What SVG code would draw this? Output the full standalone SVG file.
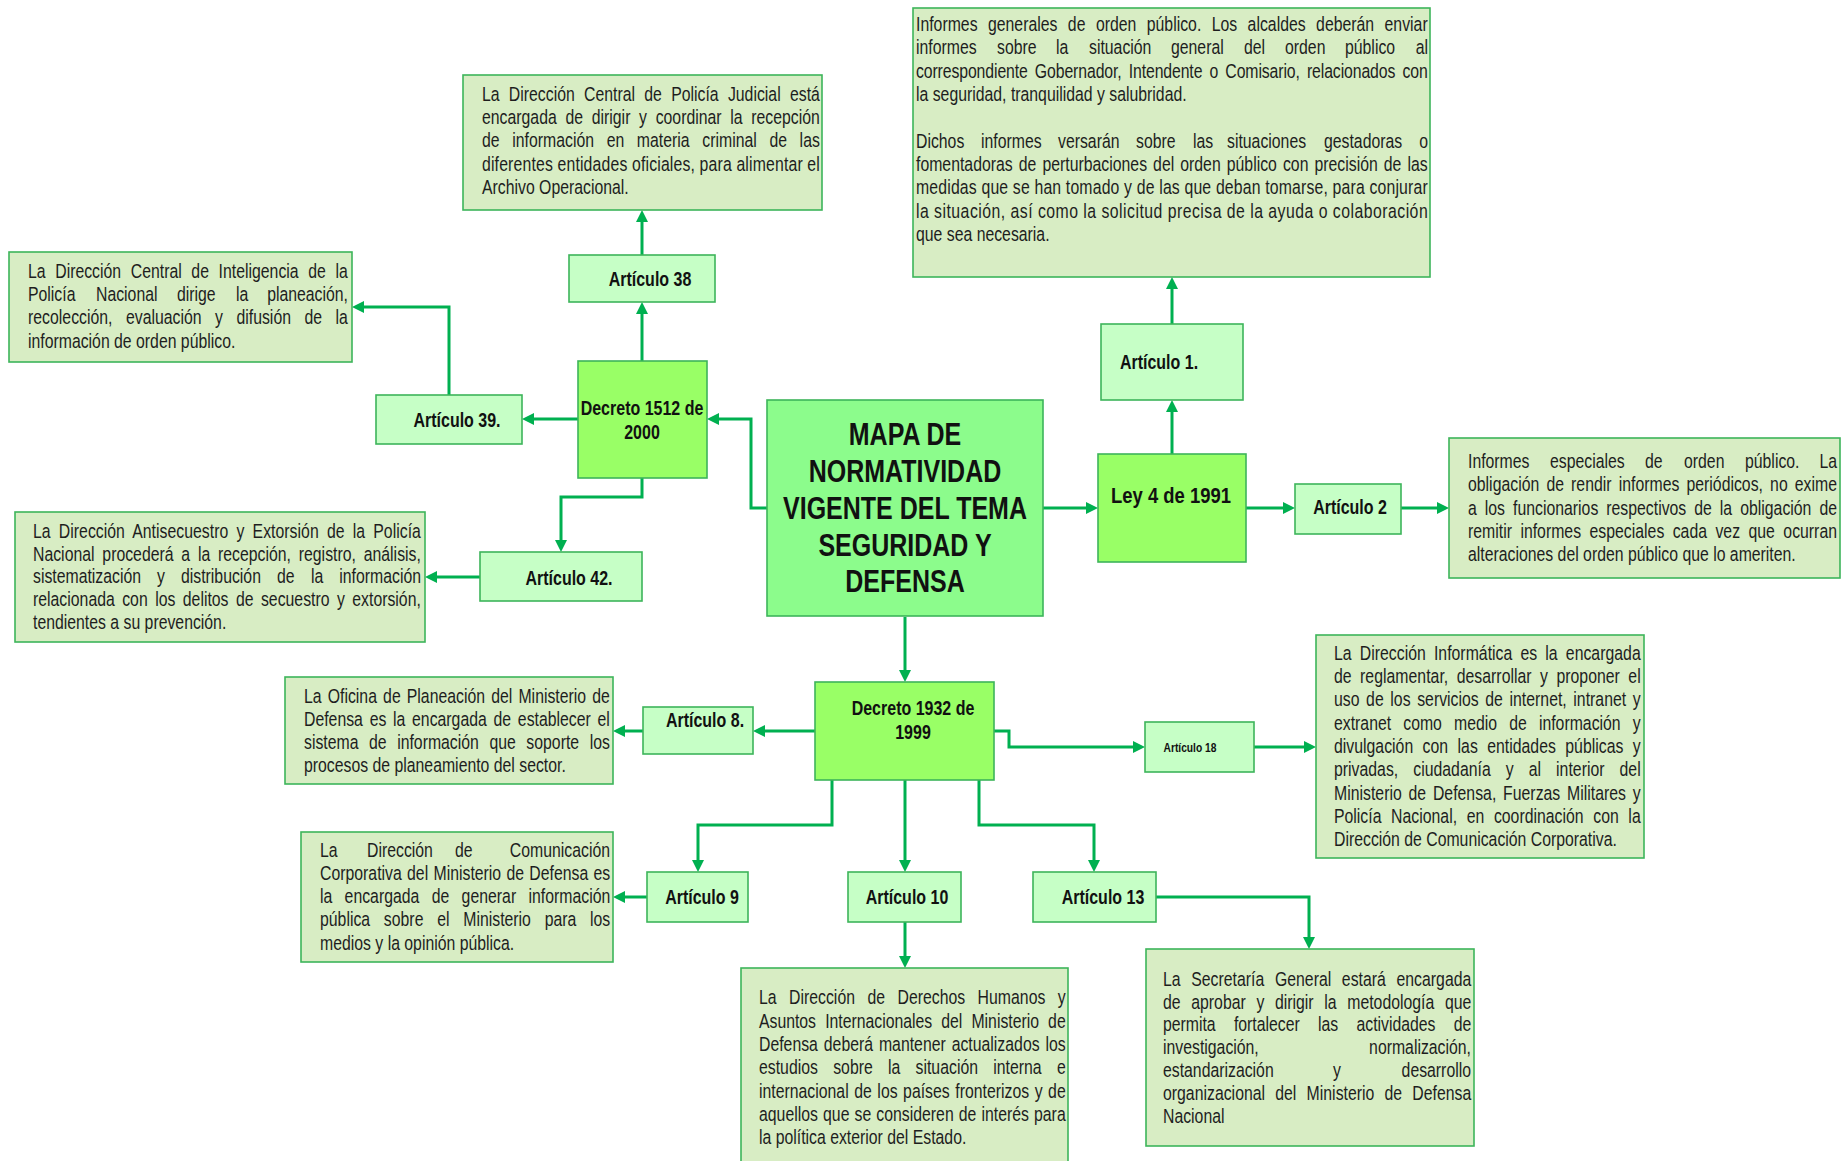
<svg xmlns="http://www.w3.org/2000/svg" width="1841" height="1161" viewBox="0 0 1841 1161">
<style>
.t{font-family:"Liberation Sans",Arial,sans-serif;font-size:19.3px;fill:#1e1e1e}
.e{text-anchor:end}
.b{font-family:"Liberation Sans",Arial,sans-serif;font-weight:bold;font-size:19.5px;fill:#111;text-anchor:middle}
.desc{fill:#D8EDC4;stroke:#3DB55A;stroke-width:1.6}
.art{fill:#C6FFC6;stroke:#3DB55A;stroke-width:1.6}
.dec{fill:#99FF66;stroke:#3DB55A;stroke-width:1.6}
.main{fill:#8CFC8C;stroke:#3DB55A;stroke-width:1.6}
.c{fill:none;stroke:#00B050;stroke-width:3;marker-end:url(#ah)}
</style>
<defs>
<marker id="ah" viewBox="0 0 12 12" refX="6" refY="6" markerWidth="12" markerHeight="12" markerUnits="userSpaceOnUse" orient="auto"><path d="M0,0 L12,6 L0,12 z" fill="#00B050"/></marker>
</defs>
<rect width="1841" height="1161" fill="#fff"/>

<g id="connectors">
<path class="c" d="M767,508 H751 V419 H713"/>
<path class="c" d="M642,361 V308"/>
<path class="c" d="M642,255 V216"/>
<path class="c" d="M578,419 H528"/>
<path class="c" d="M449,395 V307 H358"/>
<path class="c" d="M642,478 V497 H561 V546"/>
<path class="c" d="M480,577 H431"/>
<path class="c" d="M1043,508 H1092"/>
<path class="c" d="M1172,454 V406"/>
<path class="c" d="M1172,324 V283"/>
<path class="c" d="M1246,508 H1289"/>
<path class="c" d="M1401,508 H1443"/>
<path class="c" d="M905,617 V676"/>
<path class="c" d="M815,731 H759"/>
<path class="c" d="M643,731 H619"/>
<path class="c" d="M994,731 H1009 V747 H1139"/>
<path class="c" d="M1254,747 H1310"/>
<path class="c" d="M832,780 V825 H698 V866"/>
<path class="c" d="M905,780 V866"/>
<path class="c" d="M979,780 V825 H1094 V866"/>
<path class="c" d="M647,897 H619"/>
<path class="c" d="M905,922 V962"/>
<path class="c" d="M1156,897 H1309 V943"/>
</g>

<g id="main">
<rect class="main" x="767" y="400" width="276" height="216"/>
<text class="b" style="font-size:30.5px" transform="translate(905,445) scale(.82,1)">MAPA DE</text>
<text class="b" style="font-size:30.5px" transform="translate(905,482) scale(.82,1)">NORMATIVIDAD</text>
<text class="b" style="font-size:30.5px" transform="translate(905,519) scale(.82,1)">VIGENTE DEL TEMA</text>
<text class="b" style="font-size:30.5px" transform="translate(905,556) scale(.82,1)">SEGURIDAD Y</text>
<text class="b" style="font-size:30.5px" transform="translate(905,592) scale(.82,1)">DEFENSA</text>
</g>

<g id="informes-generales">
<rect class="desc" x="913" y="8" width="517" height="269"/>
<text class="t" style="word-spacing:7.3px" transform="translate(916,31) scale(.82,1)" textLength="624" lengthAdjust="spacing">Informes generales de orden público. Los alcaldes deberán enviar</text>
<text class="t" transform="translate(916,54) scale(.82,1)">informes</text>
<text class="t" transform="translate(997,54) scale(.82,1)">sobre</text>
<text class="t" transform="translate(1056,54) scale(.82,1)">la</text>
<text class="t" transform="translate(1089,54) scale(.82,1)">situación</text>
<text class="t" transform="translate(1171,54) scale(.82,1)">general</text>
<text class="t" transform="translate(1244,54) scale(.82,1)">del</text>
<text class="t" transform="translate(1285,54) scale(.82,1)">orden</text>
<text class="t" transform="translate(1345,54) scale(.82,1)">público</text>
<text class="t e" transform="translate(1428,54) scale(.82,1)">al</text>
<text class="t" style="word-spacing:3.5px" transform="translate(916,78) scale(.82,1)" textLength="624" lengthAdjust="spacing">correspondiente Gobernador, Intendente o Comisario, relacionados con</text>
<text class="t" transform="translate(916,101) scale(.82,1)">la seguridad, tranquilidad y salubridad.</text>
<text class="t" transform="translate(916,148) scale(.82,1)">Dichos</text>
<text class="t" transform="translate(981,148) scale(.82,1)">informes</text>
<text class="t" transform="translate(1058,148) scale(.82,1)">versarán</text>
<text class="t" transform="translate(1136,148) scale(.82,1)">sobre</text>
<text class="t" transform="translate(1193,148) scale(.82,1)">las</text>
<text class="t" transform="translate(1227,148) scale(.82,1)">situaciones</text>
<text class="t" transform="translate(1324,148) scale(.82,1)">gestadoras</text>
<text class="t e" transform="translate(1428,148) scale(.82,1)">o</text>
<text class="t" style="word-spacing:2px" transform="translate(916,171) scale(.82,1)" textLength="624" lengthAdjust="spacing">fomentadoras de perturbaciones del orden público con precisión de las</text>
<text class="t" transform="translate(916,194) scale(.82,1)" textLength="624" lengthAdjust="spacing">medidas que se han tomado y de las que deban tomarse, para conjurar</text>
<text class="t" transform="translate(916,218) scale(.82,1)" textLength="624" lengthAdjust="spacing">la situación, así como la solicitud precisa de la ayuda o colaboración</text>
<text class="t" transform="translate(916,241) scale(.82,1)">que sea necesaria.</text>
</g>

<g id="judicial">
<rect class="desc" x="463" y="75" width="359" height="135"/>
<text class="t" style="word-spacing:5.9px" transform="translate(482,101) scale(.82,1)" textLength="412" lengthAdjust="spacing">La Dirección Central de Policía Judicial está</text>
<text class="t" style="word-spacing:5.2px" transform="translate(482,124) scale(.82,1)" textLength="412" lengthAdjust="spacing">encargada de dirigir y coordinar la recepción</text>
<text class="t" style="word-spacing:10px" transform="translate(482,147) scale(.82,1)" textLength="412" lengthAdjust="spacing">de información en materia criminal de las</text>
<text class="t" transform="translate(482,171) scale(.82,1)" textLength="412" lengthAdjust="spacing">diferentes entidades oficiales, para alimentar el</text>
<text class="t" transform="translate(482,194) scale(.82,1)">Archivo Operacional.</text>
</g>

<g id="articulo-38">
<rect class="art" x="569" y="255" width="146" height="47"/>
<text class="b" transform="translate(650,286) scale(.82,1)">Artículo 38</text>
</g>

<g id="inteligencia">
<rect class="desc" x="9" y="252" width="343" height="110"/>
<text class="t" style="word-spacing:6.4px" transform="translate(28,278) scale(.82,1)" textLength="390" lengthAdjust="spacing">La Dirección Central de Inteligencia de la</text>
<text class="t" transform="translate(28,301) scale(.82,1)">Policía</text>
<text class="t" transform="translate(96,301) scale(.82,1)">Nacional</text>
<text class="t" transform="translate(177,301) scale(.82,1)">dirige</text>
<text class="t" transform="translate(236,301) scale(.82,1)">la</text>
<text class="t e" transform="translate(348,301) scale(.82,1)">planeación,</text>
<text class="t" style="word-spacing:11px" transform="translate(28,324) scale(.82,1)" textLength="390" lengthAdjust="spacing">recolección, evaluación y difusión de la</text>
<text class="t" transform="translate(28,348) scale(.82,1)">información de orden público.</text>
</g>

<g id="articulo-39">
<rect class="art" x="376" y="395" width="146" height="49"/>
<text class="b" transform="translate(457,427) scale(.82,1)">Artículo 39.</text>
</g>

<g id="decreto-1512">
<rect class="dec" x="578" y="361" width="129" height="117"/>
<text class="b" transform="translate(642,415) scale(.82,1)">Decreto 1512 de</text>
<text class="b" transform="translate(642,439) scale(.82,1)">2000</text>
</g>

<g id="antisecuestro">
<rect class="desc" x="15" y="512" width="410" height="130"/>
<text class="t" style="word-spacing:4.6px" transform="translate(33,538) scale(.82,1)" textLength="473" lengthAdjust="spacing">La Dirección Antisecuestro y Extorsión de la Policía</text>
<text class="t" style="word-spacing:4.1px" transform="translate(33,561) scale(.82,1)" textLength="473" lengthAdjust="spacing">Nacional procederá a la recepción, registro, análisis,</text>
<text class="t" transform="translate(33,583) scale(.82,1)">sistematización</text>
<text class="t" transform="translate(157,583) scale(.82,1)">y</text>
<text class="t" transform="translate(181,583) scale(.82,1)">distribución</text>
<text class="t" transform="translate(277,583) scale(.82,1)">de</text>
<text class="t" transform="translate(311,583) scale(.82,1)">la</text>
<text class="t e" transform="translate(421,583) scale(.82,1)">información</text>
<text class="t" style="word-spacing:3.7px" transform="translate(33,606) scale(.82,1)" textLength="473" lengthAdjust="spacing">relacionada con los delitos de secuestro y extorsión,</text>
<text class="t" transform="translate(33,629) scale(.82,1)">tendientes a su prevención.</text>
</g>

<g id="articulo-42">
<rect class="art" x="480" y="552" width="162" height="49"/>
<text class="b" transform="translate(569,585) scale(.82,1)">Artículo 42.</text>
</g>

<g id="ley-4">
<rect class="dec" x="1098" y="454" width="148" height="108"/>
<text class="b" style="font-size:22.5px" transform="translate(1171,503) scale(.82,1)">Ley 4 de 1991</text>
</g>

<g id="articulo-1">
<rect class="art" x="1101" y="324" width="142" height="76"/>
<text class="b" transform="translate(1159,369) scale(.82,1)">Artículo 1.</text>
</g>

<g id="articulo-2">
<rect class="art" x="1295" y="484" width="106" height="50"/>
<text class="b" transform="translate(1350,514) scale(.82,1)">Artículo 2</text>
</g>

<g id="informes-especiales">
<rect class="desc" x="1449" y="438" width="391" height="140"/>
<text class="t" transform="translate(1468,468) scale(.82,1)">Informes</text>
<text class="t" transform="translate(1550,468) scale(.82,1)">especiales</text>
<text class="t" transform="translate(1645,468) scale(.82,1)">de</text>
<text class="t" transform="translate(1684,468) scale(.82,1)">orden</text>
<text class="t" transform="translate(1745,468) scale(.82,1)">público.</text>
<text class="t e" transform="translate(1837,468) scale(.82,1)">La</text>
<text class="t" style="word-spacing:3.3px" transform="translate(1468,491) scale(.82,1)" textLength="450" lengthAdjust="spacing">obligación de rendir informes periódicos, no exime</text>
<text class="t" style="word-spacing:4.4px" transform="translate(1468,515) scale(.82,1)" textLength="450" lengthAdjust="spacing">a los funcionarios respectivos de la obligación de</text>
<text class="t" style="word-spacing:4.9px" transform="translate(1468,538) scale(.82,1)" textLength="450" lengthAdjust="spacing">remitir informes especiales cada vez que ocurran</text>
<text class="t" transform="translate(1468,561) scale(.82,1)">alteraciones del orden público que lo ameriten.</text>
</g>

<g id="decreto-1932">
<rect class="dec" x="815" y="682" width="179" height="98"/>
<text class="b" transform="translate(913,715) scale(.82,1)">Decreto 1932 de</text>
<text class="b" transform="translate(913,739) scale(.82,1)">1999</text>
</g>

<g id="articulo-8">
<rect class="art" x="643" y="707" width="110" height="47"/>
<text class="b" transform="translate(705,727) scale(.82,1)">Artículo 8.</text>
</g>

<g id="planeacion">
<rect class="desc" x="285" y="677" width="328" height="107"/>
<text class="t" style="word-spacing:2.1px" transform="translate(304,703) scale(.82,1)" textLength="373" lengthAdjust="spacing">La Oficina de Planeación del Ministerio de</text>
<text class="t" style="word-spacing:2.8px" transform="translate(304,726) scale(.82,1)" textLength="373" lengthAdjust="spacing">Defensa es la encargada de establecer el</text>
<text class="t" style="word-spacing:7.5px" transform="translate(304,749) scale(.82,1)" textLength="373" lengthAdjust="spacing">sistema de información que soporte los</text>
<text class="t" transform="translate(304,772) scale(.82,1)">procesos de planeamiento del sector.</text>
</g>

<g id="articulo-18">
<rect class="art" x="1145" y="722" width="109" height="50"/>
<text class="b" style="font-size:12.5px" transform="translate(1190,752) scale(.82,1)">Artículo 18</text>
</g>

<g id="informatica">
<rect class="desc" x="1316" y="635" width="328" height="223"/>
<text class="t" style="word-spacing:4.6px" transform="translate(1334,660) scale(.82,1)" textLength="374" lengthAdjust="spacing">La Dirección Informática es la encargada</text>
<text class="t" style="word-spacing:4.9px" transform="translate(1334,683) scale(.82,1)" textLength="374" lengthAdjust="spacing">de reglamentar, desarrollar y proponer el</text>
<text class="t" style="word-spacing:2.7px" transform="translate(1334,706) scale(.82,1)" textLength="374" lengthAdjust="spacing">uso de los servicios de internet, intranet y</text>
<text class="t" style="word-spacing:9.4px" transform="translate(1334,730) scale(.82,1)" textLength="374" lengthAdjust="spacing">extranet como medio de información y</text>
<text class="t" style="word-spacing:6.1px" transform="translate(1334,753) scale(.82,1)" textLength="374" lengthAdjust="spacing">divulgación con las entidades públicas y</text>
<text class="t" style="word-spacing:13px" transform="translate(1334,776) scale(.82,1)" textLength="374" lengthAdjust="spacing">privadas, ciudadanía y al interior del</text>
<text class="t" style="word-spacing:2.9px" transform="translate(1334,800) scale(.82,1)" textLength="374" lengthAdjust="spacing">Ministerio de Defensa, Fuerzas Militares y</text>
<text class="t" style="word-spacing:6.4px" transform="translate(1334,823) scale(.82,1)" textLength="374" lengthAdjust="spacing">Policía Nacional, en coordinación con la</text>
<text class="t" transform="translate(1334,846) scale(.82,1)">Dirección de Comunicación Corporativa.</text>
</g>

<g id="articulo-9">
<rect class="art" x="647" y="872" width="101" height="50"/>
<text class="b" transform="translate(702,904) scale(.82,1)">Artículo 9</text>
</g>

<g id="comunicacion">
<rect class="desc" x="301" y="832" width="312" height="130"/>
<text class="t" transform="translate(320,857) scale(.82,1)">La</text>
<text class="t" transform="translate(367,857) scale(.82,1)">Dirección</text>
<text class="t" transform="translate(455,857) scale(.82,1)">de</text>
<text class="t e" transform="translate(610,857) scale(.82,1)">Comunicación</text>
<text class="t" style="word-spacing:1.1px" transform="translate(320,880) scale(.82,1)" textLength="354" lengthAdjust="spacing">Corporativa del Ministerio de Defensa es</text>
<text class="t" style="word-spacing:9.6px" transform="translate(320,903) scale(.82,1)" textLength="354" lengthAdjust="spacing">la encargada de generar información</text>
<text class="t" style="word-spacing:11.4px" transform="translate(320,926) scale(.82,1)" textLength="354" lengthAdjust="spacing">pública sobre el Ministerio para los</text>
<text class="t" transform="translate(320,950) scale(.82,1)">medios y la opinión pública.</text>
</g>

<g id="articulo-10">
<rect class="art" x="848" y="872" width="113" height="50"/>
<text class="b" transform="translate(907,904) scale(.82,1)">Artículo 10</text>
</g>

<g id="articulo-13">
<rect class="art" x="1033" y="872" width="123" height="50"/>
<text class="b" transform="translate(1103,904) scale(.82,1)">Artículo 13</text>
</g>

<g id="derechos-humanos">
<rect class="desc" x="741" y="968" width="327" height="210"/>
<text class="t" style="word-spacing:9.8px" transform="translate(759,1004) scale(.82,1)" textLength="374" lengthAdjust="spacing">La Dirección de Derechos Humanos y</text>
<text class="t" style="word-spacing:5.8px" transform="translate(759,1028) scale(.82,1)" textLength="374" lengthAdjust="spacing">Asuntos Internacionales del Ministerio de</text>
<text class="t" style="word-spacing:1.8px" transform="translate(759,1051) scale(.82,1)" textLength="374" lengthAdjust="spacing">Defensa deberá mantener actualizados los</text>
<text class="t" style="word-spacing:13.2px" transform="translate(759,1074) scale(.82,1)" textLength="374" lengthAdjust="spacing">estudios sobre la situación interna e</text>
<text class="t" style="word-spacing:1.4px" transform="translate(759,1098) scale(.82,1)" textLength="374" lengthAdjust="spacing">internacional de los países fronterizos y de</text>
<text class="t" style="word-spacing:0.8px" transform="translate(759,1121) scale(.82,1)" textLength="374" lengthAdjust="spacing">aquellos que se consideren de interés para</text>
<text class="t" transform="translate(759,1144) scale(.82,1)">la política exterior del Estado.</text>
</g>

<g id="secretaria">
<rect class="desc" x="1146" y="949" width="328" height="197"/>
<text class="t" style="word-spacing:7.6px" transform="translate(1163,986) scale(.82,1)" textLength="376" lengthAdjust="spacing">La Secretaría General estará encargada</text>
<text class="t" style="word-spacing:7.6px" transform="translate(1163,1009) scale(.82,1)" textLength="376" lengthAdjust="spacing">de aprobar y dirigir la metodología que</text>
<text class="t" style="word-spacing:17px" transform="translate(1163,1031) scale(.82,1)" textLength="376" lengthAdjust="spacing">permita fortalecer las actividades de</text>
<text class="t" transform="translate(1163,1054) scale(.82,1)">investigación,</text>
<text class="t e" transform="translate(1471,1054) scale(.82,1)">normalización,</text>
<text class="t" transform="translate(1163,1077) scale(.82,1)">estandarización</text>
<text class="t" transform="translate(1333,1077) scale(.82,1)">y</text>
<text class="t e" transform="translate(1471,1077) scale(.82,1)">desarrollo</text>
<text class="t" style="word-spacing:7.1px" transform="translate(1163,1100) scale(.82,1)" textLength="376" lengthAdjust="spacing">organizacional del Ministerio de Defensa</text>
<text class="t" transform="translate(1163,1123) scale(.82,1)">Nacional</text>
</g>
</svg>
